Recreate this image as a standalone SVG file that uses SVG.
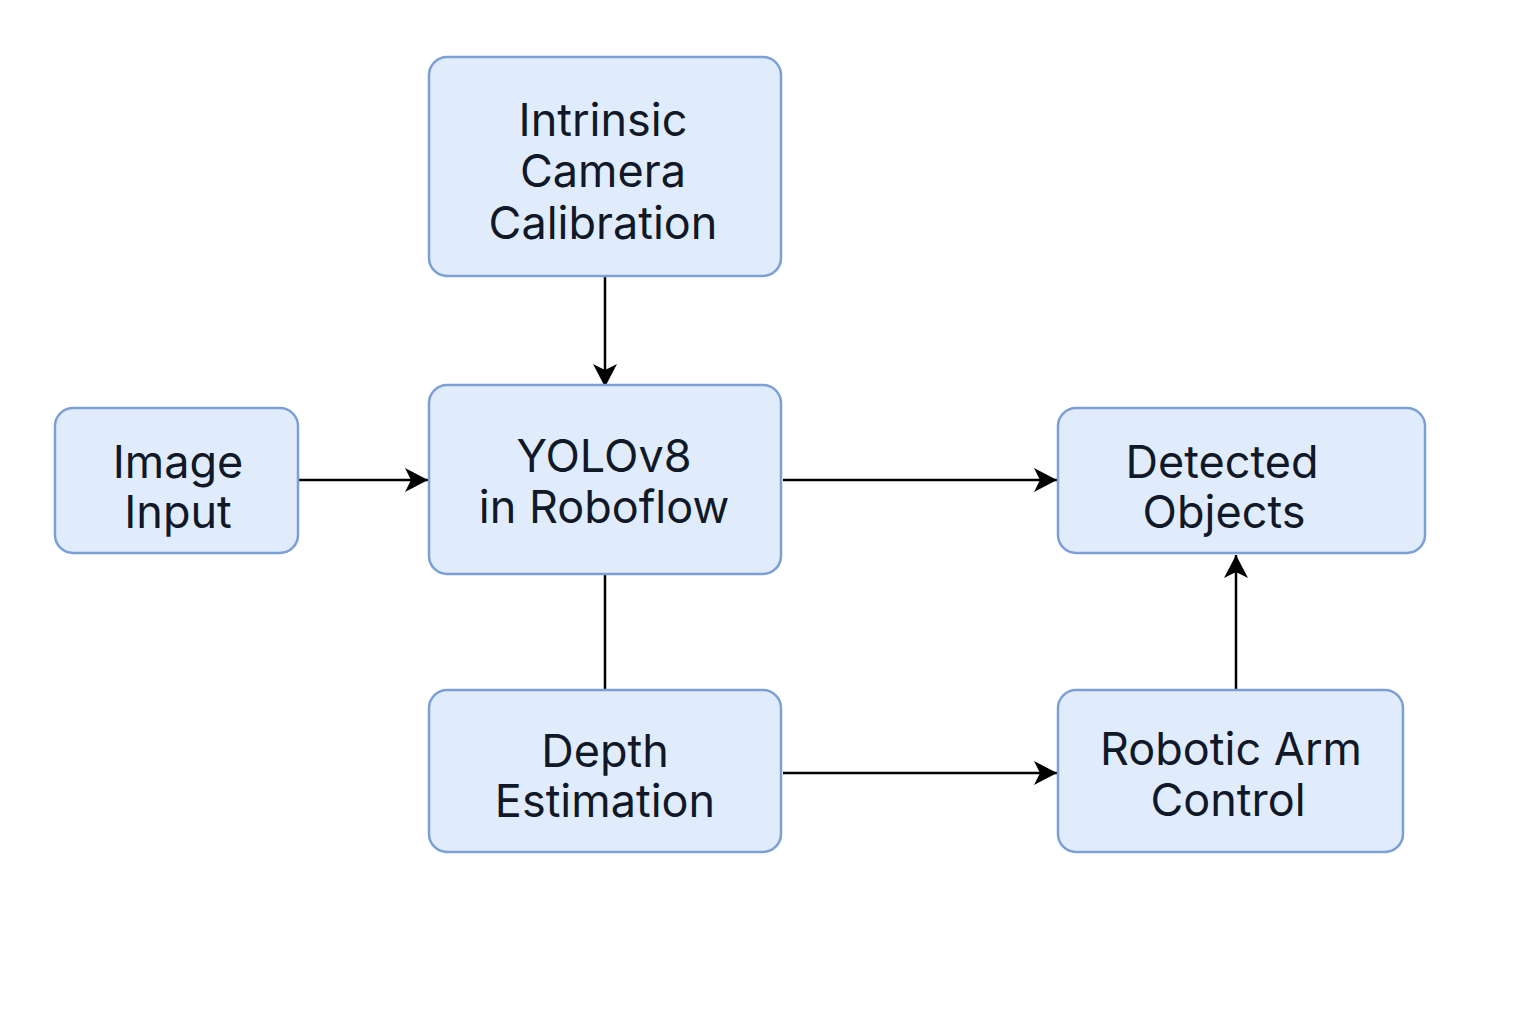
<svg xmlns="http://www.w3.org/2000/svg" width="1536" height="1024" viewBox="0 0 1536 1024">
<style>
.box{fill:#E0ECFC;stroke:#7C9FD5;stroke-width:2.5}
.t{font-family:Inter,"Noto Sans","Liberation Sans",sans-serif;font-size:45px;fill:#111827;text-anchor:middle}
.c{stroke:#000;stroke-width:2.5;fill:none}
</style>
<defs>
<marker id="ah" markerWidth="26" markerHeight="26" refX="23" refY="12" orient="auto" markerUnits="userSpaceOnUse">
<path d="M0,0 L23,12 L0,24 L6,12 Z" fill="#000"/>
</marker>
</defs>
<rect width="1536" height="1024" fill="#fff"/>
<g id="connectors">
<line class="c" x1="605" y1="277" x2="605" y2="387" marker-end="url(#ah)"/>
<line class="c" x1="299" y1="480" x2="428" y2="480" marker-end="url(#ah)"/>
<line class="c" x1="783" y1="480" x2="1057" y2="480" marker-end="url(#ah)"/>
<line class="c" x1="605" y1="575" x2="605" y2="689"/>
<line class="c" x1="783" y1="773" x2="1057" y2="773" marker-end="url(#ah)"/>
<line class="c" x1="1236" y1="689" x2="1236" y2="555" marker-end="url(#ah)"/>
</g>
<g id="intrinsic">
<rect class="box" x="429" y="57" width="352" height="219" rx="18"/>
<text class="t" x="603" y="136">Intrinsic</text>
<text class="t" x="603" y="187">Camera</text>
<text class="t" x="603" y="239">Calibration</text>
</g>
<g id="yolo">
<rect class="box" x="429" y="385" width="352" height="189" rx="18"/>
<text class="t" x="604" y="472">YOLOv8</text>
<text class="t" x="604" y="523">in Roboflow</text>
</g>
<g id="image">
<rect class="box" x="55" y="408" width="243" height="145" rx="18"/>
<text class="t" x="178" y="478">Image</text>
<text class="t" x="178" y="528">Input</text>
</g>
<g id="detected">
<rect class="box" x="1058" y="408" width="367" height="145" rx="18"/>
<text class="t" x="1222" y="478">Detected</text>
<text class="t" x="1224" y="528">Objects</text>
</g>
<g id="depth">
<rect class="box" x="429" y="690" width="352" height="162" rx="18"/>
<text class="t" x="605" y="767">Depth</text>
<text class="t" x="605" y="817">Estimation</text>
</g>
<g id="robotic">
<rect class="box" x="1058" y="690" width="345" height="162" rx="18"/>
<text class="t" x="1231" y="765">Robotic Arm</text>
<text class="t" x="1228" y="816">Control</text>
</g>
</svg>
